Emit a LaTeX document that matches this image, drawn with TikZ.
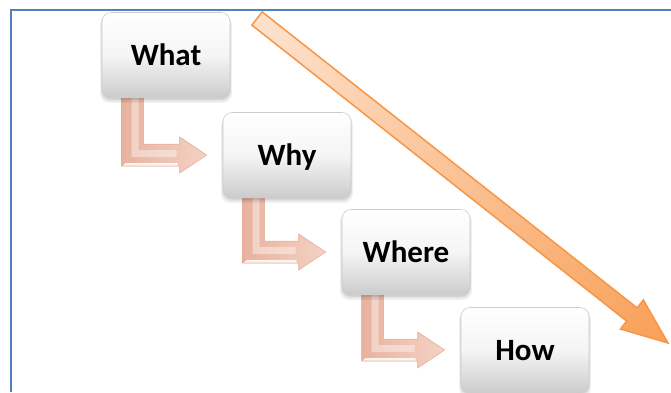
\documentclass[tikz,border=0pt]{standalone}
\usepackage{fontspec}
\setmainfont{Carlito}
\usetikzlibrary{shadows,backgrounds,calc}

\definecolor{framebl}{RGB}{79,129,189}
\definecolor{arrline}{RGB}{247,150,70}
\definecolor{arrlight}{RGB}{253,226,206}
\definecolor{arrdark}{RGB}{248,160,88}
\definecolor{lfill}{RGB}{244,210,196}
\definecolor{ldark}{RGB}{232,178,158}
\definecolor{ledge}{RGB}{226,170,150}

\tikzset{
  softshadow/.style={
    general shadow={fill=black, opacity=0.06, shadow yshift=-4pt, shadow scale=1.03},
    general shadow={fill=black, opacity=0.06, shadow yshift=-3pt, shadow scale=1.015},
    general shadow={fill=black, opacity=0.08, shadow yshift=-2pt}},
  stepbox/.style={rectangle, rounded corners=9pt,
    minimum width=128pt, minimum height=85pt,
    top color=white, bottom color=black!20, middle color=black!4,
    draw=black!20, line width=0.6pt,
    font=\fontsize{31}{32}\selectfont\bfseries,
    text height=20pt, text depth=0pt, softshadow},
  bentarrowsty/.style={left color=ldark, right color=lfill,
    draw=ledge, line width=0.5pt, line join=miter},
  bentlight/.style={fill=white, fill opacity=0.4},
  framerule/.style={draw=framebl, line width=2pt},
  bigarrow/.style={left color=arrlight, right color=arrdark,
    draw=arrline, line width=1.5pt, line join=miter}
}

% bent arrow from the bottom of box #1 to the left side of box #2
\newcommand\bentarrow[2]{%
  \path[bentarrowsty] let \p1=(#1.south west), \p2=(#2.west) in
    (\x1+20pt,\y1+4pt) -- (\x1+42pt,\y1+4pt) -- (\x1+42pt,\y2+11pt)
    -- (\x2-43pt,\y2+11pt) -- (\x2-43pt,\y2+18pt) -- (\x2-16pt,\y2)
    -- (\x2-43pt,\y2-18pt) -- (\x2-43pt,\y2-11pt) -- (\x1+20pt,\y2-11pt)
    -- cycle;
  \path[bentlight] let \p1=(#1.south west), \p2=(#2.west) in
    (\x1+30pt,\y1) -- (\x1+37pt,\y1) -- (\x1+37pt,\y2+5pt)
    -- (\x2-46pt,\y2+5pt) -- (\x2-46pt,\y2-2pt) -- (\x1+30pt,\y2-2pt) -- cycle;
  \path[fill=white, fill opacity=0.85] let \p1=(#1.south west), \p2=(#2.west) in
    (\x1+24pt,\y2-8pt) -- (\x2-45pt,\y2-8pt) -- (\x2-45pt,\y2-10.5pt)
    -- (\x1+21pt,\y2-10.5pt) -- cycle;
}

\begin{document}
\begin{tikzpicture}[x=1pt, y=-1pt]
  \useasboundingbox (0,0) rectangle (671,392);
  \begin{pgfonlayer}{background}
    \fill[white] (0,0) rectangle (671,392);
  \end{pgfonlayer}

  % page frame
  \coordinate (fbl) at (11,392);
  \coordinate (ftl) at (11,9.5);
  \coordinate (ftr) at (671,9.5);
  \draw[framerule] (fbl) -- (ftl) -- (ftr);

  % steps
  \node[stepbox] (what)  at (166,55)  {What};
  \node[stepbox] (why)   at (287,155) {Why};
  \node[stepbox] (where) at (406,252) {Where};
  \node[stepbox] (how)   at (525,350) {How};

  % long diagonal arrow
  \begin{scope}[transform canvas={shift={(257,18.5)}, rotate=-38.29}]
    \path[bigarrow] (0,-8.4) -- (477.7,-8.4) -- (477.7,-18.5) -- (523.7,0)
      -- (477.7,18.5) -- (477.7,8.4) -- (0,8.4) -- cycle;
  \end{scope}

  % bent connectors behind the boxes
  \begin{pgfonlayer}{background}
    \bentarrow{what}{why}
    \bentarrow{why}{where}
    \bentarrow{where}{how}
  \end{pgfonlayer}
\end{tikzpicture}
\end{document}
